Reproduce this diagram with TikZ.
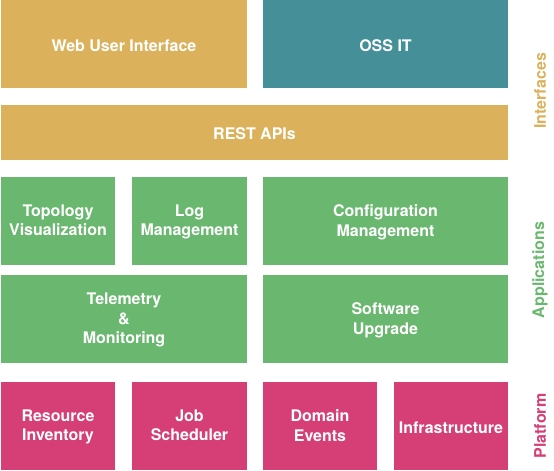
\documentclass[tikz,border=0pt]{standalone}
\usepackage{fontspec}
\setmainfont{TeX Gyre Heros}
\definecolor{gold}{HTML}{DBB15C}
\definecolor{teal}{HTML}{458F99}
\definecolor{leaf}{HTML}{6AB86F}
\definecolor{rose}{HTML}{D53F76}
\newcommand\blkstrut{\rule[-1.5pt]{0pt}{17.5pt}}
\tikzset{
  blk/.style={rectangle, inner sep=0pt, text=white, align=center,
    font=\fontsize{16}{19.8}\selectfont\bfseries,
    execute at begin node=\blkstrut, text depth=1.5pt},
  tag/.style={rotate=90, inner sep=0pt, font=\fontsize{16}{19}\selectfont\bfseries}
}
\begin{document}
\begin{tikzpicture}[x=1pt, y=-1pt]
  \useasboundingbox (0,0) rectangle (554,471);
  \node[blk, fill=gold, minimum width=246, minimum height=88] (webui) at(124,44){Web User Interface};
  \node[blk, fill=teal, minimum width=245, minimum height=88] (ossit) at(385.5,44){OSS IT};
  \node[blk, fill=gold, minimum width=507, minimum height=55] (rest) at(254.5,132.5){REST APIs};
  \node[blk, fill=leaf, minimum width=114, minimum height=88] (topo) at(58,221){Topology\\Visualization};
  \node[blk, fill=leaf, minimum width=115, minimum height=88] (logm) at(189.5,221){Log\\Management};
  \node[blk, fill=leaf, minimum width=245, minimum height=88] (conf) at(385.5,221){Configuration\\Management};
  \node[blk, fill=leaf, minimum width=246, minimum height=88] (tele) at(124,319){Telemetry\\\&\\Monitoring};
  \node[blk, fill=leaf, minimum width=245, minimum height=88] (soft) at(385.5,319){Software\\Upgrade};
  \node[blk, fill=rose, minimum width=114, minimum height=88] (res) at(58,426){Resource\\Inventory};
  \node[blk, fill=rose, minimum width=115, minimum height=88] (job) at(189.5,426){Job\\Scheduler};
  \node[blk, fill=rose, minimum width=114, minimum height=88] (dom) at(320,426){Domain\\Events};
  \node[blk, fill=rose, minimum width=114, minimum height=88] (infra) at(451,426){Infrastructure};
  \node[tag, text=gold] (ifc) at(540,91){Interfaces};
  \node[tag, text=leaf] (app) at(540,270){Applications};
  \node[tag, text=rose] (plat) at(540,426){Platform};
\end{tikzpicture}
\end{document}
